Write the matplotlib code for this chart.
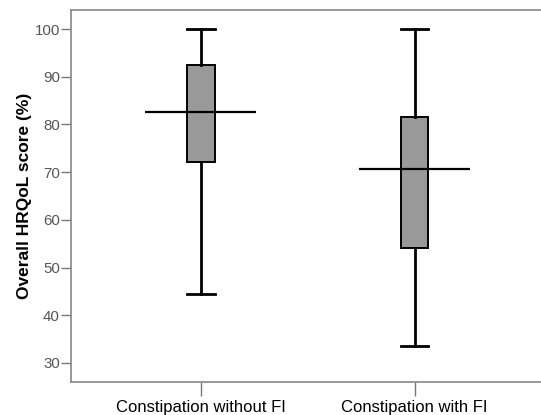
import matplotlib
matplotlib.use('Agg')
import matplotlib.pyplot as plt

plt.rcParams['font.family'] = ['Liberation Sans', 'DejaVu Sans']

# data
groups   = ['Constipation without FI', 'Constipation with FI']
wmin     = [44.4, 33.5]
q1       = [72.2, 54.2]
median   = [82.6, 70.7]
q3       = [92.4, 81.6]
wmax     = [100.0, 100.0]
yticks   = [30, 40, 50, 60, 70, 80, 90, 100]

pos = [1, 2]
stats = [dict(label=g, whislo=lo, q1=a, med=m, q3=b, whishi=hi)
         for g, lo, a, m, b, hi in zip(groups, wmin, q1, median, q3, wmax)]

fig = plt.figure(figsize=(5.41, 4.15), dpi=100)
ax = fig.add_axes([71 / 541, 33 / 415, 472 / 541, 372 / 415])

ax.bxp(stats, positions=pos, widths=0.128, patch_artist=True, showfliers=False,
       boxprops=dict(facecolor='#999999', edgecolor='black', linewidth=1.4),
       whiskerprops=dict(color='black', linewidth=2.0),
       capprops=dict(color='black', linewidth=2.0),
       capwidths=0.128,
       medianprops=dict(linewidth=0))
# SPSS style median line, wider than the box
ax.hlines(median, [p - 0.26 for p in pos], [p + 0.26 for p in pos],
          color='black', linewidth=1.6, zorder=5)

ax.set_xlim(0.393, 2.6)
ax.set_ylim(26, 104)
ax.set_yticks(yticks)
ax.set_xticks(pos)
ax.set_xticklabels(groups, fontsize=12, color='black')
ax.tick_params(axis='y', length=7, width=1, color='#777777', labelsize=10.8,
               labelcolor='#555555', pad=1)
ax.tick_params(axis='x', length=10, width=1, color='#777777', pad=3)
ax.set_ylabel('Overall HRQoL score (%)', fontsize=12.5, fontweight='bold', labelpad=2)

for s in ax.spines.values():
    s.set_color('#888888')
    s.set_linewidth(1.2)
ax.spines['right'].set_visible(False)

fig.savefig('out.png', dpi=100)
